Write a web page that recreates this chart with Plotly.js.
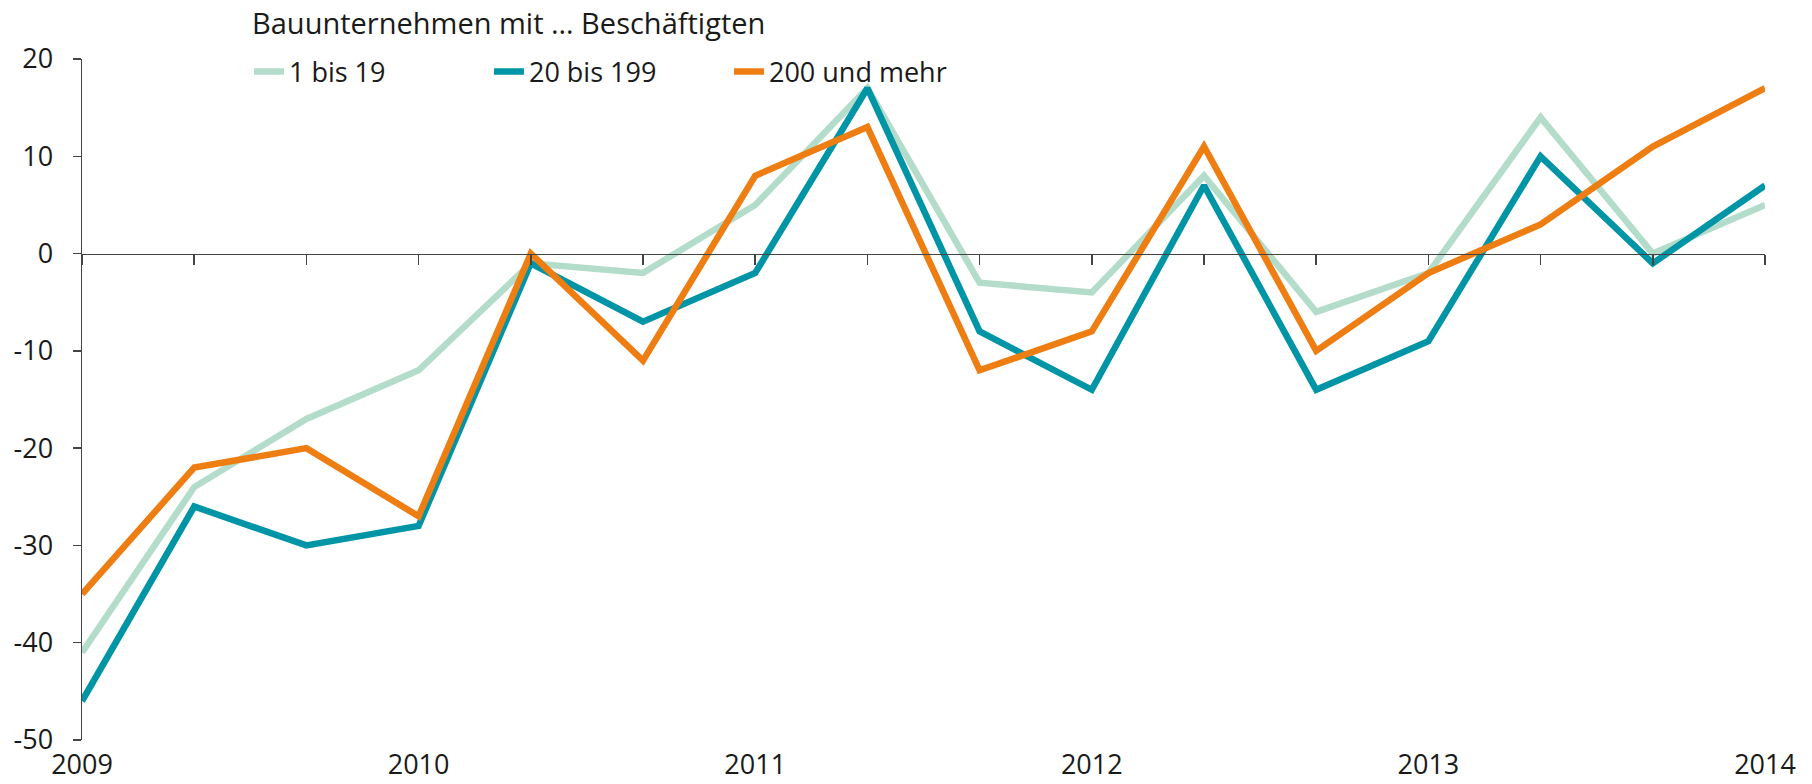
<!DOCTYPE html>
<html>
<head>
<meta charset="utf-8">
<script src="https://cdn.plot.ly/plotly-3.0.1.min.js"></script>
<style>
  html, body { margin: 0; padding: 0; background: #ffffff; }
  #chart { width: 1812px; height: 784px; }
</style>
</head>
<body>
<div id="chart"></div>
<script>
// 16 observations along the time axis (2009 .. 2014), as index positions
const periods = [0, 1, 2, 3, 4, 5, 6, 7, 8, 9, 10, 11, 12, 13, 14, 15];
const yearTickPositions = [0, 3, 6, 9, 12, 15];
const yearLabels = ['2009', '2010', '2011', '2012', '2013', '2014'];

const yTickValues = [-50, -40, -30, -20, -10, 0, 10, 20];
const yTickLabels = ['-50', '-40', '-30', '-20', '-10', '0', '10', '20'];

const seriesNames = ['1 bis 19', '20 bis 199', '200 und mehr'];
const small  = [-41, -24, -17, -12, -1, -2, 5, 17, -3, -4, 8, -6, -2, 14, 0, 5];
const medium = [-46, -26, -30, -28, -1, -7, -2, 17, -8, -14, 7, -14, -9, 10, -1, 7];
const large  = [-35, -22, -20, -27, 0, -11, 8, 13, -12, -8, 11, -10, -2, 3, 11, 17];

const colors = ['#b4dccb', '#0095a6', '#ee7d12'];
const FONT = '"Open Sans", "Noto Sans", "Liberation Sans", sans-serif';

const values = [small, medium, large];
const traces = values.map((v, i) => ({
  x: periods,
  y: v,
  name: seriesNames[i],
  type: 'scatter',
  mode: 'lines',
  xaxis: 'x',
  yaxis: 'y',
  line: { color: colors[i], width: 6.5 },
  hoverinfo: 'x+y+name'
}));
// empty helper trace so the zero-line axis (x2) is built
traces.push({ x: [], y: [], xaxis: 'x2', yaxis: 'y', type: 'scatter', mode: 'lines', showlegend: false, hoverinfo: 'skip' });

const yMin = -50, yMax = 20;

const layout = {
  width: 1812,
  height: 784,
  paper_bgcolor: '#ffffff',
  plot_bgcolor: '#ffffff',
  margin: { l: 82, r: 47, t: 59, b: 44 },
  font: { family: FONT, size: 27, color: '#1a1a1a' },
  showlegend: true,
  legend: {
    orientation: 'h',
    x: 0.0992, xanchor: 'left',
    y: 0.981, yanchor: 'middle',
    font: { family: FONT, size: 27, color: '#1a1a1a' },
    entrywidth: 195,
    entrywidthmode: 'pixels',
    bgcolor: 'rgba(0,0,0,0)',
    traceorder: 'normal'
  },
  annotations: [{
    text: 'Bauunternehmen mit … Beschäftigten',
    xref: 'paper', yref: 'paper',
    x: 0.1, xanchor: 'left',
    y: 1.0529, yanchor: 'middle',
    showarrow: false,
    font: { family: FONT, size: 29, color: '#1a1a1a' }
  }],
  xaxis: {
    range: [0, 15],
    tickvals: yearTickPositions,
    ticktext: yearLabels,
    showline: false,
    showgrid: false,
    zeroline: false,
    ticks: '',
    ticklabelstandoff: 6,
    tickfont: { family: FONT, size: 27, color: '#1a1a1a' },
    fixedrange: true
  },
  xaxis2: {
    overlaying: 'x',
    matches: 'x',
    anchor: 'free',
    position: (0 - yMin) / (yMax - yMin),
    side: 'bottom',
    range: [0, 15],
    tickvals: periods,
    showticklabels: false,
    ticks: 'outside',
    ticklen: 10,
    tickwidth: 1.5,
    tickcolor: '#444444',
    showline: true,
    linecolor: '#444444',
    linewidth: 1.5,
    showgrid: false,
    zeroline: false,
    fixedrange: true
  },
  yaxis: {
    range: [yMin, yMax],
    tickvals: yTickValues,
    ticktext: yTickLabels,
    showline: true,
    linecolor: '#444444',
    linewidth: 1.5,
    ticks: 'outside',
    ticklen: 8,
    tickwidth: 1.5,
    tickcolor: '#444444',
    showgrid: false,
    zeroline: false,
    ticklabelstandoff: 14,
    tickfont: { family: FONT, size: 27, color: '#1a1a1a' },
    fixedrange: true
  }
};

Plotly.newPlot('chart', traces, layout, { displayModeBar: false, staticPlot: true });
</script>
</body>
</html>
